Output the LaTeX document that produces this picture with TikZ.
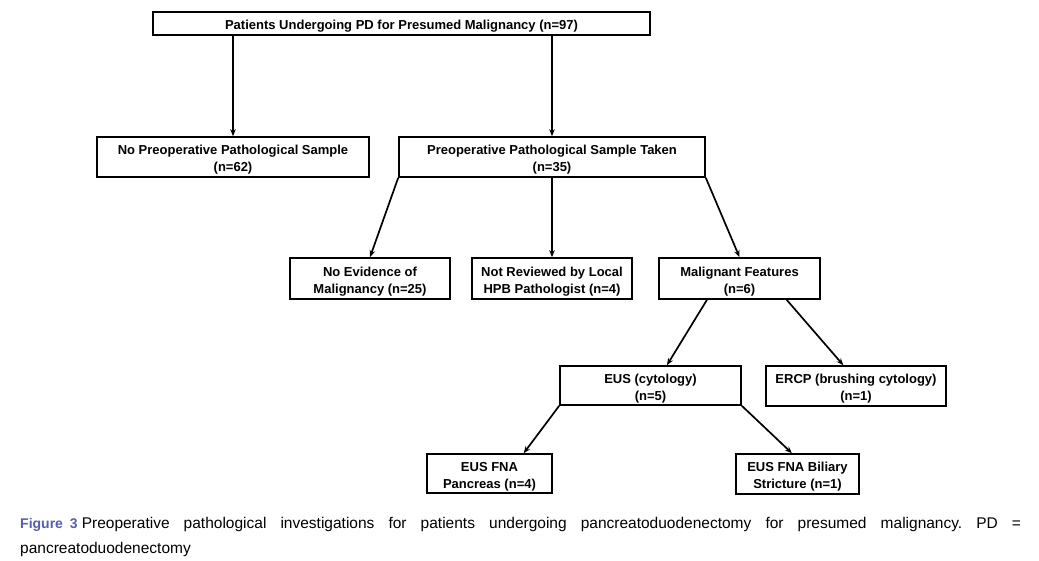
\documentclass[tikz,border=0pt]{standalone}
\usepackage{fontspec}
\setmainfont{Liberation Sans}
\usetikzlibrary{arrows.meta,calc}
\definecolor{figblue}{RGB}{88,94,168}
\newcommand\boxstrut{\rule{0pt}{15pt}}
\begin{document}
\begin{tikzpicture}[x=1pt,y=-1pt,
  box/.style={draw, line width=1.6pt, inner sep=0pt, align=center,
    font=\bfseries\fontsize{13}{17}\selectfont},
  arr/.style={line width=1.7pt, -{Stealth[length=7pt,width=5.5pt]}}]
\useasboundingbox (0,0) rectangle (1039,561);
\fill[white] (0,0) rectangle (1039,561);
\node[box, minimum width=497pt, minimum height=23pt] (top) at (401.5,23.5) {\rule{0pt}{14pt}Patients Undergoing PD for Presumed Malignancy (n=97)};
\node[box, minimum width=272pt, minimum height=40pt] (nopre) at (233,157) {\boxstrut No Preoperative Pathological Sample\\(n=62)};
\node[box, minimum width=306pt, minimum height=40pt] (pre) at (552,157) {\boxstrut Preoperative Pathological Sample Taken\\(n=35)};
\node[box, minimum width=160pt, minimum height=41pt] (noev) at (370,278.5) {\boxstrut No Evidence of\\Malignancy (n=25)};
\node[box, minimum width=160pt, minimum height=41pt] (notrev) at (552,278.5) {\boxstrut Not Reviewed by Local\\HPB Pathologist (n=4)};
\node[box, minimum width=161pt, minimum height=41pt] (mal) at (739.5,278.5) {\boxstrut Malignant Features\\(n=6)};
\node[box, minimum width=181pt, minimum height=39pt] (eus) at (650.5,385.5) {\boxstrut EUS (cytology)\\(n=5)};
\node[box, minimum width=180pt, minimum height=40pt] (ercp) at (856,386) {\boxstrut ERCP (brushing cytology)\\(n=1)};
\node[box, minimum width=125pt, minimum height=39pt] (fnap) at (489.5,473.5) {\boxstrut EUS FNA\\Pancreas (n=4)};
\node[box, minimum width=123pt, minimum height=40pt] (fnab) at (797.5,474) {\boxstrut EUS FNA Biliary\\Stricture (n=1)};

\draw[arr] (top.south -| nopre.north) -- (nopre.north);
\draw[arr] (top.south -| pre.north) -- (pre.north);
\draw[arr] (pre.south west) -- (noev.north);
\draw[arr] (pre.south) -- (notrev.north);
\draw[arr] (pre.south east) -- (mal.north);
\draw[arr] ($(mal.south west)!0.3!(mal.south east)$) -- ($(eus.north west)!0.59!(eus.north east)$);
\draw[arr] ($(mal.south west)!0.79!(mal.south east)$) -- ($(ercp.north west)!0.43!(ercp.north east)$);
\draw[arr] (eus.south west) -- ($(fnap.north west)!0.77!(fnap.north east)$);
\draw[arr] (eus.south east) -- ($(fnab.north west)!0.455!(fnab.north east)$);

\node[anchor=north west, inner sep=0pt, text width=1001pt, align=justify,
  font=\fontsize{15.5}{25}\selectfont] (cap) at (20,517)
  {\hyphenpenalty=10000\frenchspacing{\color{figblue}\bfseries\fontsize{14}{25}\selectfont Figure\kern7pt 3}\kern4pt Preoperative pathological investigations for patients undergoing pancreatoduodenectomy for presumed malignancy. PD =\linebreak pancreatoduodenectomy};
\end{tikzpicture}
\end{document}
